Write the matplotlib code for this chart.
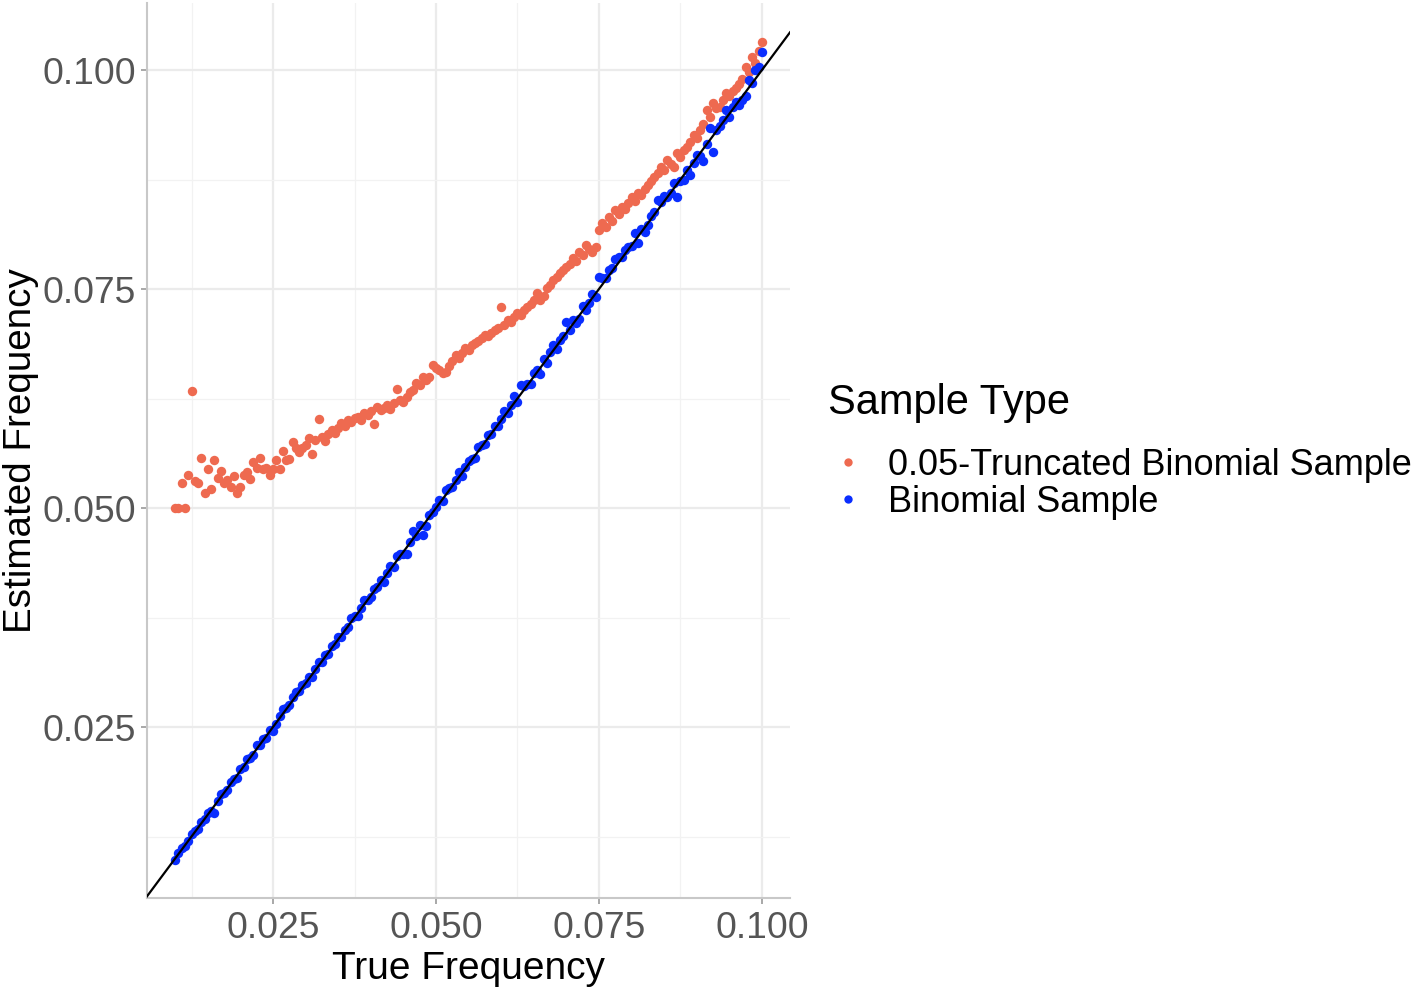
import matplotlib
matplotlib.use("Agg")
import matplotlib.pyplot as plt
from matplotlib.lines import Line2D
from matplotlib.ticker import MultipleLocator

# true frequencies (shared by both samples)
true_freq = [
    0.0100, 0.0105, 0.0110, 0.0115, 0.0120, 0.0125, 0.0130, 0.0135, 0.0140, 0.0145,
    0.0150, 0.0155, 0.0160, 0.0165, 0.0170, 0.0175, 0.0180, 0.0185, 0.0190, 0.0195,
    0.0200, 0.0205, 0.0210, 0.0215, 0.0220, 0.0225, 0.0230, 0.0235, 0.0240, 0.0245,
    0.0250, 0.0255, 0.0260, 0.0265, 0.0270, 0.0275, 0.0280, 0.0285, 0.0290, 0.0295,
    0.0300, 0.0305, 0.0310, 0.0315, 0.0320, 0.0325, 0.0330, 0.0335, 0.0340, 0.0345,
    0.0350, 0.0355, 0.0360, 0.0365, 0.0370, 0.0375, 0.0380, 0.0385, 0.0390, 0.0395,
    0.0400, 0.0405, 0.0410, 0.0415, 0.0420, 0.0425, 0.0430, 0.0435, 0.0440, 0.0445,
    0.0450, 0.0455, 0.0460, 0.0465, 0.0470, 0.0475, 0.0480, 0.0485, 0.0490, 0.0495,
    0.0500, 0.0505, 0.0510, 0.0515, 0.0520, 0.0525, 0.0530, 0.0535, 0.0540, 0.0545,
    0.0550, 0.0555, 0.0560, 0.0565, 0.0570, 0.0575, 0.0580, 0.0585, 0.0590, 0.0595,
    0.0600, 0.0605, 0.0610, 0.0615, 0.0620, 0.0625, 0.0630, 0.0635, 0.0640, 0.0645,
    0.0650, 0.0655, 0.0660, 0.0665, 0.0670, 0.0675, 0.0680, 0.0685, 0.0690, 0.0695,
    0.0700, 0.0705, 0.0710, 0.0715, 0.0720, 0.0725, 0.0730, 0.0735, 0.0740, 0.0745,
    0.0750, 0.0755, 0.0760, 0.0765, 0.0770, 0.0775, 0.0780, 0.0785, 0.0790, 0.0795,
    0.0800, 0.0805, 0.0810, 0.0815, 0.0820, 0.0825, 0.0830, 0.0835, 0.0840, 0.0845,
    0.0850, 0.0855, 0.0860, 0.0865, 0.0870, 0.0875, 0.0880, 0.0885, 0.0890, 0.0895,
    0.0900, 0.0905, 0.0910, 0.0915, 0.0920, 0.0925, 0.0930, 0.0935, 0.0940, 0.0945,
    0.0950, 0.0955, 0.0960, 0.0965, 0.0970, 0.0975, 0.0980, 0.0985, 0.0990, 0.0995,
    0.1000,
]

# 0.05-truncated binomial sample estimates
est_truncated = [
    0.0500, 0.0500, 0.0529, 0.0500, 0.0538, 0.0634, 0.0531, 0.0529, 0.0557, 0.0517,
    0.0545, 0.0522, 0.0555, 0.0534, 0.0542, 0.0529, 0.0532, 0.0524, 0.0537, 0.0517,
    0.0524, 0.0538, 0.0541, 0.0533, 0.0553, 0.0546, 0.0557, 0.0545, 0.0546, 0.0538,
    0.0545, 0.0555, 0.0545, 0.0565, 0.0555, 0.0556, 0.0575, 0.0568, 0.0564, 0.0568,
    0.0572, 0.0580, 0.0562, 0.0578, 0.0602, 0.0581, 0.0576, 0.0584, 0.0589, 0.0586,
    0.0591, 0.0597, 0.0594, 0.0600, 0.0598, 0.0603, 0.0604, 0.0601, 0.0608, 0.0606,
    0.0611, 0.0596, 0.0615, 0.0612, 0.0614, 0.0618, 0.0613, 0.0620, 0.0636, 0.0623,
    0.0621, 0.0627, 0.0632, 0.0635, 0.0643, 0.0640, 0.0650, 0.0646, 0.0650, 0.0663,
    0.0660, 0.0657, 0.0654, 0.0655, 0.0662, 0.0668, 0.0675, 0.0671, 0.0677, 0.0683,
    0.0680, 0.0686, 0.0688, 0.0691, 0.0694, 0.0697, 0.0696, 0.0700, 0.0703, 0.0706,
    0.0729, 0.0709, 0.0715, 0.0712, 0.0718, 0.0723, 0.0720, 0.0726, 0.0729, 0.0733,
    0.0738, 0.0745, 0.0737, 0.0742, 0.0751, 0.0755, 0.0760, 0.0764, 0.0768, 0.0772,
    0.0775, 0.0779, 0.0785, 0.0782, 0.0792, 0.0789, 0.0800, 0.0796, 0.0792, 0.0798,
    0.0817, 0.0825, 0.0821, 0.0832, 0.0828, 0.0840, 0.0836, 0.0844, 0.0841, 0.0848,
    0.0855, 0.0851, 0.0860, 0.0857, 0.0864, 0.0869, 0.0873, 0.0878, 0.0882, 0.0889,
    0.0886, 0.0897, 0.0893, 0.0889, 0.0905, 0.0901, 0.0909, 0.0912, 0.0918, 0.0926,
    0.0922, 0.0932, 0.0938, 0.0954, 0.0946, 0.0962, 0.0957, 0.0958, 0.0966, 0.0974,
    0.0970, 0.0976, 0.0979, 0.0984, 0.0990, 0.1003, 0.0998, 0.1015, 0.1008, 0.1022,
    0.1032,
]

# plain binomial sample estimates
est_binomial = [
    0.0098, 0.0106, 0.0112, 0.0114, 0.0120, 0.0128, 0.0131, 0.0133, 0.0142, 0.0145,
    0.0152, 0.0154, 0.0152, 0.0166, 0.0173, 0.0175, 0.0178, 0.0187, 0.0191, 0.0192,
    0.0202, 0.0204, 0.0213, 0.0215, 0.0218, 0.0229, 0.0229, 0.0236, 0.0237, 0.0247,
    0.0245, 0.0253, 0.0263, 0.0270, 0.0272, 0.0275, 0.0284, 0.0290, 0.0291, 0.0298,
    0.0300, 0.0307, 0.0307, 0.0316, 0.0324, 0.0324, 0.0332, 0.0333, 0.0343, 0.0345,
    0.0353, 0.0353, 0.0361, 0.0364, 0.0374, 0.0377, 0.0377, 0.0386, 0.0395, 0.0395,
    0.0398, 0.0407, 0.0410, 0.0418, 0.0416, 0.0426, 0.0434, 0.0433, 0.0445, 0.0447,
    0.0447, 0.0448, 0.0461, 0.0474, 0.0468, 0.0481, 0.0469, 0.0479, 0.0492, 0.0496,
    0.0501, 0.0509, 0.0508, 0.0520, 0.0523, 0.0524, 0.0532, 0.0541, 0.0537, 0.0547,
    0.0554, 0.0556, 0.0557, 0.0570, 0.0572, 0.0573, 0.0583, 0.0585, 0.0594, 0.0594,
    0.0602, 0.0611, 0.0608, 0.0618, 0.0628, 0.0621, 0.0640, 0.0639, 0.0641, 0.0642,
    0.0654, 0.0657, 0.0653, 0.0670, 0.0666, 0.0678, 0.0686, 0.0681, 0.0692, 0.0696,
    0.0712, 0.0703, 0.0715, 0.0711, 0.0716, 0.0731, 0.0726, 0.0734, 0.0744, 0.0741,
    0.0764, 0.0763, 0.0763, 0.0772, 0.0774, 0.0784, 0.0787, 0.0787, 0.0795, 0.0798,
    0.0799, 0.0814, 0.0803, 0.0819, 0.0815, 0.0823, 0.0833, 0.0838, 0.0852, 0.0849,
    0.0856, 0.0855, 0.0860, 0.0871, 0.0855, 0.0873, 0.0874, 0.0886, 0.0880, 0.0894,
    0.0903, 0.0902, 0.0896, 0.0916, 0.0934, 0.0906, 0.0931, 0.0936, 0.0943, 0.0954,
    0.0946, 0.0958, 0.0963, 0.0960, 0.0966, 0.0970, 0.0989, 0.0985, 0.1000, 0.1003,
    0.1021,
]

series_labels = ["0.05-Truncated Binomial Sample", "Binomial Sample"]
series_colors = ["#EE6A50", "#0A2EFF"]
x_ticks = [0.025, 0.050, 0.075, 0.100]
y_ticks = [0.025, 0.050, 0.075, 0.100]

plt.rcParams["font.family"] = ["Liberation Sans", "DejaVu Sans"]

fig = plt.figure(figsize=(14.15, 9.89), dpi=100)
ax = fig.add_axes([147 / 1415, 1 - 898 / 989, (790 - 147) / 1415, (898 - 3) / 989])

ax.scatter(true_freq, est_truncated, s=46, color=series_colors[0], linewidths=0, zorder=3)
ax.scatter(true_freq, est_binomial, s=46, color=series_colors[1], linewidths=0, zorder=3)
ax.axline((0, 0), slope=1, color="black", lw=1.6, zorder=4)

ax.set_xlim(0.00567, 0.1043)
ax.set_ylim(0.00548, 0.10765)
ax.set_xticks(x_ticks)
ax.set_yticks(y_ticks)
ax.set_xticklabels(["%.3f" % v for v in x_ticks])
ax.set_yticklabels(["%.3f" % v for v in y_ticks])
ax.xaxis.set_minor_locator(MultipleLocator(0.0125))
ax.yaxis.set_minor_locator(MultipleLocator(0.0125))
ax.grid(which="major", color="#EBEBEB", lw=1.6, zorder=0)
ax.grid(which="minor", color="#F2F2F2", lw=0.9, zorder=0)
ax.set_axisbelow(True)

for side in ["top", "right"]:
    ax.spines[side].set_visible(False)
for side in ["left", "bottom"]:
    ax.spines[side].set_color("#C8C8C8")
    ax.spines[side].set_linewidth(1.5)

ax.tick_params(which="major", length=4, width=1.2, color="#9A9A9A",
               labelsize=26.8, labelcolor="#555555", pad=4)
ax.tick_params(axis="x", which="major", pad=5.5)
ax.tick_params(which="minor", length=0)

ax.set_xlabel("True Frequency", fontsize=28, labelpad=3.5)
ax.set_ylabel("Estimated Frequency", fontsize=27.8, labelpad=2)

# legend: title as separate text, entries below it
fig.text(828 / 1415, 1 - 403 / 989, "Sample Type", fontsize=30, ha="left", va="center")
handles = [Line2D([], [], ls="none", marker="o", ms=6, mew=0, color=c) for c in series_colors]
fig.legend(handles, series_labels, loc="center left", bbox_to_anchor=(832 / 1415, 1 - 484 / 989),
           frameon=False, fontsize=26, handlelength=0.886, handletextpad=0.66,
           labelspacing=0.05, borderpad=0, borderaxespad=0)

fig.savefig("out.png", dpi=100)
